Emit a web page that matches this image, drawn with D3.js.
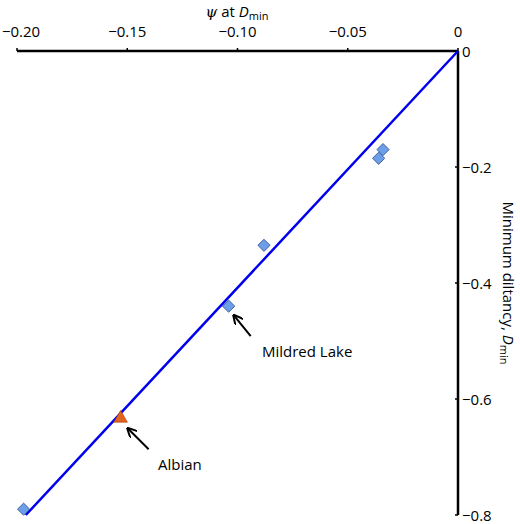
<!DOCTYPE html><html><head><meta charset="utf-8"><script src="https://cdn.jsdelivr.net/npm/d3@7"></script>
<style>body{margin:0;background:#fff}text{font-family:"Open Sans",sans-serif}</style></head><body><svg width="520" height="524"></svg>
<script>
const xTicks=[-0.20,-0.15,-0.10,-0.05,0];
const yTicks=[0,-0.2,-0.4,-0.6,-0.8];
const xTickLabels=["−0.20","−0.15","−0.10","−0.05","0"];
const yTickLabels=["0","−0.2","−0.4","−0.6","−0.8"];
const psi=[-0.197,-0.034,-0.036,-0.088,-0.104];
const dmin=[-0.79,-0.17,-0.185,-0.335,-0.44];
const albian=[-0.153,-0.635];
const fitLine=[[0,0],[-0.196,-0.80]];
const svg=d3.select("svg");
const x=d3.scaleLinear().domain([-0.2,0]).range([17,458]);
const y=d3.scaleLinear().domain([0,-0.8]).range([51,515]);
svg.append("line").attr("x1",x(-0.2)).attr("x2",x(0)).attr("y1",y(0)).attr("y2",y(0)).attr("stroke","#000").attr("stroke-width",2.5);
svg.append("line").attr("x1",x(0)).attr("x2",x(0)).attr("y1",y(0)).attr("y2",y(-0.8)).attr("stroke","#000").attr("stroke-width",2.5);
xTicks.forEach((t,i)=>{svg.append("line").attr("x1",x(t)).attr("x2",x(t)).attr("y1",y(0)-3).attr("y2",y(0)).attr("stroke","#000").attr("stroke-width",1.5);
svg.append("text").attr("x",i===0?x(t)+4:x(t)).attr("y",y(0)-14).attr("text-anchor","middle").attr("font-size",15).text(xTickLabels[i]);});
yTicks.forEach((t,i)=>{svg.append("line").attr("x1",x(0)-3).attr("x2",x(0)).attr("y1",y(t)).attr("y2",y(t)).attr("stroke","#000").attr("stroke-width",1.5);
svg.append("text").attr("x",x(0)+4).attr("y",y(t)+6).attr("font-size",15).text(yTickLabels[i]);});
const xl=svg.append("text").attr("x",237).attr("y",17).attr("text-anchor","middle").attr("font-size",15);
xl.append("tspan").attr("font-style","italic").attr("font-family","DejaVu Serif").text("ψ");
xl.append("tspan").text(" at ");xl.append("tspan").attr("font-style","italic").text("D");
xl.append("tspan").attr("font-size",11).attr("dy",3).text("min");
const yl=svg.append("text").attr("transform","translate(503,283) rotate(90)").attr("text-anchor","middle").attr("font-size",15);
yl.append("tspan").text("Minimum diltancy, ");yl.append("tspan").attr("font-style","italic").text("D");
yl.append("tspan").attr("font-size",11).attr("dy",3).text("min");
svg.append("line").attr("x1",x(fitLine[0][0])).attr("y1",y(fitLine[0][1])).attr("x2",x(fitLine[1][0])).attr("y2",y(fitLine[1][1])).attr("stroke","#0000ee").attr("stroke-width",2.5);
psi.forEach((p,i)=>{svg.append("path").attr("d",d3.symbol(d3.symbolDiamond2,95)()).attr("transform",`translate(${x(p)},${y(dmin[i])})`).attr("fill","#6d9ee8").attr("stroke","#2c4a8a").attr("stroke-width",0.8);});
svg.append("path").attr("d",d3.symbol(d3.symbolTriangle,80)()).attr("transform",`translate(${x(albian[0])},${y(albian[1])-1})`).attr("fill","#e2641c").attr("stroke","#a04010").attr("stroke-width",0.6);
const defs=svg.append("defs");defs.append("marker").attr("id","ah").attr("viewBox","0 0 10 10").attr("refX",9).attr("refY",5).attr("markerWidth",5).attr("markerHeight",5).attr("orient","auto").append("path").attr("d","M0,0L10,5L0,10").attr("fill","none").attr("stroke","#000").attr("stroke-width",2);
function ann(px,py,tx,ty,lx,ly,label){svg.append("line").attr("x1",tx).attr("y1",ty).attr("x2",px).attr("y2",py).attr("stroke","#000").attr("stroke-width",2).attr("marker-end","url(#ah)");
svg.append("text").attr("x",lx).attr("y",ly).attr("font-size",15).text(label);}
ann(x(-0.104)+5,y(-0.44)+9,x(-0.104)+22,y(-0.44)+30,262,357,"Mildred Lake");
ann(x(-0.153)+7,y(-0.635)+9,x(-0.153)+28,y(-0.635)+30,158,470,"Albian");
</script></body></html>
